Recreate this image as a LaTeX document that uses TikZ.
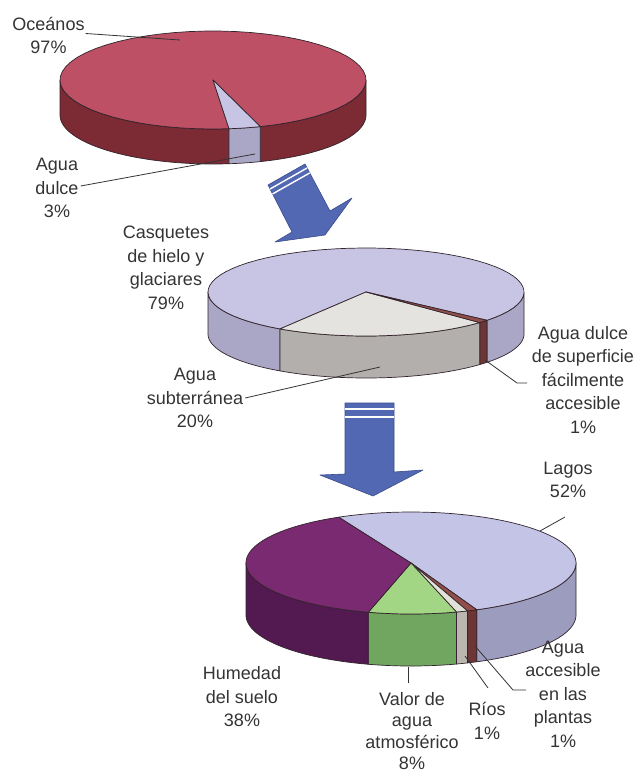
\documentclass[tikz,border=0pt]{standalone}
\usepackage{fontspec}
\setmainfont{Liberation Sans}
\usetikzlibrary{calc}

% colours of the three pies
\definecolor{oceantop}{RGB}{190,80,102}
\definecolor{oceanside}{RGB}{124,42,52}
\definecolor{lavtop}{RGB}{200,196,228}
\definecolor{lavside}{RGB}{170,166,198}
\definecolor{greytop}{RGB}{228,227,224}
\definecolor{greyside}{RGB}{178,175,172}
\definecolor{browntop}{RGB}{146,78,74}
\definecolor{brownside}{RGB}{108,54,54}
\definecolor{laketop}{RGB}{196,196,230}
\definecolor{lakeside}{RGB}{156,156,190}
\definecolor{purpletop}{RGB}{122,42,112}
\definecolor{purpleside}{RGB}{82,26,80}
\definecolor{greentop}{RGB}{162,214,132}
\definecolor{greenside}{RGB}{112,166,96}
\definecolor{rivertop}{RGB}{226,226,216}
\definecolor{riverside}{RGB}{186,182,176}
\definecolor{arrowblue}{RGB}{82,104,178}
\definecolor{arrowedge}{RGB}{58,76,140}
\definecolor{inkgrey}{RGB}{52,52,52}
\definecolor{edgedark}{RGB}{50,36,44}

% top face of one slice: centre, radii, angles, colour
\newcommand{\slicetop}[7]{%
  \filldraw[fill=#7, pieedge] (#1,#2) -- plot[domain=#5:#6, samples=60, variable=\t]
    ({#1+#3*cos(\t)},{#2+#4*sin(\t)}) -- cycle;}
% front wall of one slice: centre, radii, depth, angles, colour
\newcommand{\slicewall}[8]{%
  \filldraw[fill=#8, pieedge] plot[domain=#6:#7, samples=40, variable=\t]
    ({#1+#3*cos(\t)},{#2+#4*sin(\t)}) --
    plot[domain=#7:#6, samples=40, variable=\t]
    ({#1+#3*cos(\t)},{#2+#5+#4*sin(\t)}) -- cycle;}

\tikzset{
  pieedge/.style={draw=edgedark, line width=0.7pt, line join=round},
  label/.style={text=inkgrey, align=center, inner sep=0pt,
    font=\fontsize{18}{23.5}\selectfont},
  leader/.style={draw=inkgrey, line width=0.8pt},
  bigarrow/.style={fill=arrowblue, draw=arrowedge, line width=0.6pt, line join=round},
  stripe/.style={draw=white, line width=1.4pt},
}

\begin{document}
\begin{tikzpicture}[x=1pt, y=-1pt]
\useasboundingbox[fill=white] (0,0) rectangle (635,781);

% ---------- first pie: oceans / fresh water ----------
\slicewall{213}{80}{153}{49}{35}{0}{72}{oceanside}
\slicewall{213}{80}{153}{49}{35}{84}{180}{oceanside}
\slicewall{213}{80}{153}{49}{35}{72}{84}{lavside}
\slicetop{213}{80}{153}{49}{84}{432}{oceantop}
\slicetop{213}{80}{153}{49}{72}{84}{lavtop}

% ---------- second pie: fresh water ----------
\slicewall{366}{292}{158}{44}{42}{0}{40}{lavside}
\slicewall{366}{292}{158}{44}{42}{123}{180}{lavside}
\slicewall{366}{292}{158}{44}{42}{40}{44}{brownside}
\slicewall{366}{292}{158}{44}{42}{44}{123}{greyside}
\slicetop{366}{292}{158}{44}{123}{400}{lavtop}
\slicetop{366}{292}{158}{44}{44}{123}{greytop}
\slicetop{366}{292}{158}{44}{40}{44}{browntop}

% ---------- third pie: surface water ----------
\slicewall{411}{563}{165}{51}{52}{0}{66.5}{lakeside}
\slicewall{411}{563}{165}{51}{52}{66.5}{70}{brownside}
\slicewall{411}{563}{165}{51}{52}{70}{74}{riverside}
\slicewall{411}{563}{165}{51}{52}{74}{105}{greenside}
\slicewall{411}{563}{165}{51}{52}{105}{180}{purpleside}
\slicetop{411}{563}{165}{51}{244}{426.5}{laketop}
\slicetop{411}{563}{165}{51}{66.5}{70}{browntop}
\slicetop{411}{563}{165}{51}{70}{74}{rivertop}
\slicetop{411}{563}{165}{51}{74}{105}{greentop}
\slicetop{411}{563}{165}{51}{105}{244}{purpletop}

% ---------- arrows ----------
\coordinate (a1) at (268,185);
\coordinate (b1) at (305,164);
\coordinate (c1) at (330,211);
\coordinate (g1) at (292,232);
\filldraw[bigarrow] (a1) -- (b1) -- (c1) -- (352,198) -- (325,235) -- (275,242) -- (g1) -- cycle;
\draw[stripe] ($(a1)!0.085!(g1)$) -- ($(b1)!0.085!(c1)$);
\draw[stripe] ($(a1)!0.19!(g1)$) -- ($(b1)!0.19!(c1)$);

\filldraw[bigarrow] (345,403) -- (394,403) -- (394,472) -- (423,470) -- (373,496)
  -- (320,475) -- (345,474) -- cycle;
\draw[stripe] (345,409) -- (394,409);
\draw[stripe] (345,417) -- (394,417);

% ---------- labels ----------
\node[label] (oce)   at (48.5,35.5) {Oceános\\97\%};
\node[label] (fresh) at (57,188)    {Agua\\dulce\\3\%};
\node[label] (casq)  at (166,268)   {Casquetes\\de hielo y\\glaciares\\79\%};
\node[label] (sub)   at (195,398)   {Agua\\subterránea\\20\%};
\node[label] (sup)   at (583,380)   {Agua dulce\\de superficie\\fácilmente\\accesible\\1\%};
\node[label] (lagos) at (568,480)   {Lagos\\52\%};
\node[label] (hum)   at (242,697)   {Humedad\\del suelo\\38\%};
\node[label, font=\fontsize{18}{21.4}\selectfont] (valor) at (412,731)
  {Valor de\\agua\\atmosférico\\8\%};
\node[label] (rios)  at (487,721)   {Ríos\\1\%};
\node[label] (plant) at (563,694)   {Agua\\accesible\\en las\\plantas\\1\%};

% ---------- leader lines ----------
\coordinate (oceP)   at (180,40);
\coordinate (freshP) at (255,154);
\coordinate (subP)   at (380,367);
\coordinate (supP)   at (485,360);
\coordinate (supK)   at (517,383);
\coordinate (supE)   at (527,383);
\coordinate (lagosS) at (565,517);
\coordinate (lagosP) at (540,531);
\coordinate (valorS) at (408,683);
\coordinate (valorP) at (408,667);
\coordinate (riosS)  at (488,688);
\coordinate (riosP)  at (465,656);
\coordinate (plantP) at (475,646);
\coordinate (plantK) at (513,690);
\coordinate (plantE) at (526,690);

\draw[leader] ($(oce.east)+(1,-2)$) -- (oceP);
\draw[leader] ($(fresh.east)+(2,-2)$) -- (freshP);
\draw[leader] ($(sub.east)+(2,0)$) -- (subP);
\draw[leader] (supE) -- (supK) -- (supP);
\draw[leader] (lagosS) -- (lagosP);
\draw[leader] (valorS) -- (valorP);
\draw[leader] (riosS) -- (riosP);
\draw[leader] (plantE) -- (plantK) -- (plantP);
\end{tikzpicture}
\end{document}
